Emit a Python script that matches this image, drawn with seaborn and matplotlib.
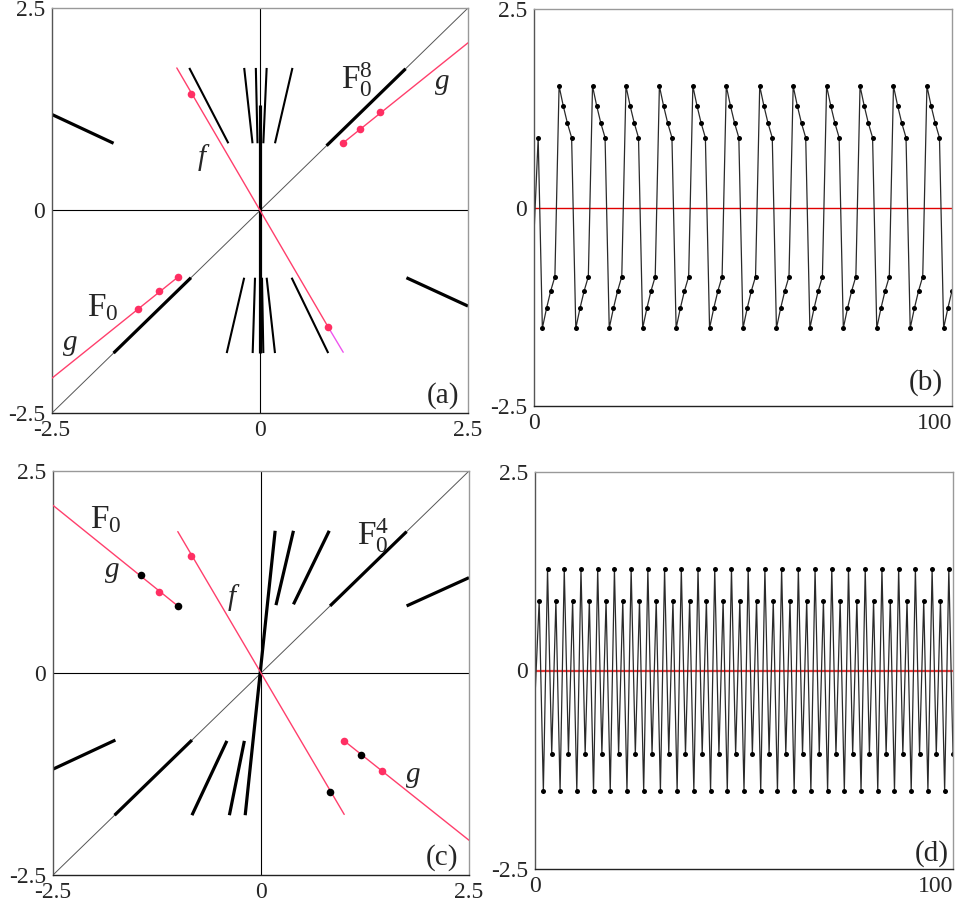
import numpy as np
import pandas as pd
import matplotlib
matplotlib.use("Agg")
import matplotlib.pyplot as plt
import seaborn as sns

sns.set_style("white")
plt.rcParams["font.family"] = ["Liberation Serif", "DejaVu Serif"]
plt.rcParams["mathtext.fontset"] = "custom"
plt.rcParams["mathtext.rm"] = "Liberation Serif"
plt.rcParams["mathtext.it"] = "Liberation Serif:italic"

# ---------------- data ----------------
AXIS_TICKS = [-2.5, 0, 2.5]
AXIS_TICKLABELS = ["-2.5", "0", "2.5"]
TS_XTICKS = [0, 100]
TS_XTICKLABELS = ["0", "100"]
TS_YTICKS = [-2.5, 0, 2.5]
TS_YTICKLABELS = ["-2.5", "0", "2.5"]
DIAG = [-2.5, 2.5]

# panel (a)
A_F_X = [-1.0, 0.82]
A_F_Y = [1.76, -1.44]
A_F_TAIL_X = [0.82, 1.0]
A_F_TAIL_Y = [-1.44, -1.75]
A_G_LOW_X = [-2.5, -0.99]
A_G_LOW_Y = [-2.07, -0.825]
A_G_HIGH_X = [1.0, 2.5]
A_G_HIGH_Y = [0.835, 2.07]
A_DOT_X = [-1.47, -1.21, -0.99, 1.0, 1.2, 1.44, -0.83, 0.82]
A_DOT_Y = [-1.22, -0.99, -0.825, 0.835, 1.0, 1.21, 1.44, -1.44]
# thick segments (x0, y0, x1, y1)
A_THICK = [(-1.76, -1.76, -0.83, -0.83), (0.80, 0.80, 1.75, 1.75),
           (-2.5, 1.185, -1.76, 0.83), (1.76, -0.83, 2.5, -1.18),
           (0.0, -1.76, 0.0, 1.30)]
A_FAN_UP_TOP = [-0.85, -0.19, -0.05, 0.08, 0.39]      # at y = 1.76
A_FAN_UP_BOT = [-0.38, -0.09, -0.03, 0.04, 0.18]      # at y = 0.83
A_FAN_LO_TOP = [-0.19, -0.06, 0.024, 0.08, 0.38]      # at y = -0.83
A_FAN_LO_BOT = [-0.40, -0.088, 0.04, 0.18, 0.82]      # at y = -1.76
FAN_Y_OUT = 1.76
FAN_Y_IN = 0.83

# panel (c)
C_F_X = [-1.0, 1.0]
C_F_Y = [1.75, -1.75]
C_G_LEFT_X = [-2.5, -1.0]
C_G_LEFT_Y = [2.075, 0.83]
C_G_RIGHT_X = [1.0, 2.5]
C_G_RIGHT_Y = [-0.84, -2.07]
C_RED_X = [-1.22, 1.0, 1.46, -0.84]
C_RED_Y = [1.0, -0.84, -1.21, 1.45]
C_BLACK_X = [-1.445, -1.0, 1.2, 0.83]
C_BLACK_Y = [1.21, 0.83, -1.01, -1.47]
C_THICK = [(-1.76, -1.76, -0.83, -0.83), (0.83, 0.83, 1.75, 1.75),
           (-2.5, -1.19, -1.75, -0.83), (1.75, 0.83, 2.5, 1.18),
           (0.18, 0.84, 0.39, 1.76), (0.39, 0.85, 0.82, 1.76),
           (-0.41, -0.84, -0.83, -1.76), (-0.20, -0.84, -0.38, -1.76),
           (-0.19, -1.76, 0.17, 1.76)]

# panel (b) time series, period 8
B_N = list(range(101))
B_VALUES = [-0.33, 0.88,
            -1.52, -1.27, -1.05, -0.87, 1.53, 1.28, 1.06, 0.88,
            -1.52, -1.27, -1.05, -0.87, 1.53, 1.28, 1.06, 0.88,
            -1.52, -1.27, -1.05, -0.87, 1.53, 1.28, 1.06, 0.88,
            -1.52, -1.27, -1.05, -0.87, 1.53, 1.28, 1.06, 0.88,
            -1.52, -1.27, -1.05, -0.87, 1.53, 1.28, 1.06, 0.88,
            -1.52, -1.27, -1.05, -0.87, 1.53, 1.28, 1.06, 0.88,
            -1.52, -1.27, -1.05, -0.87, 1.53, 1.28, 1.06, 0.88,
            -1.52, -1.27, -1.05, -0.87, 1.53, 1.28, 1.06, 0.88,
            -1.52, -1.27, -1.05, -0.87, 1.53, 1.28, 1.06, 0.88,
            -1.52, -1.27, -1.05, -0.87, 1.53, 1.28, 1.06, 0.88,
            -1.52, -1.27, -1.05, -0.87, 1.53, 1.28, 1.06, 0.88,
            -1.52, -1.27, -1.05, -0.87, 1.53, 1.28, 1.06, 0.88,
            -1.52, -1.27, -1.05]

# panel (d) time series, period 4
D_N = list(range(101))
D_VALUES = [-0.33,
            0.88, -1.52, 1.28, -1.05, 0.88, -1.52, 1.28, -1.05,
            0.88, -1.52, 1.28, -1.05, 0.88, -1.52, 1.28, -1.05,
            0.88, -1.52, 1.28, -1.05, 0.88, -1.52, 1.28, -1.05,
            0.88, -1.52, 1.28, -1.05, 0.88, -1.52, 1.28, -1.05,
            0.88, -1.52, 1.28, -1.05, 0.88, -1.52, 1.28, -1.05,
            0.88, -1.52, 1.28, -1.05, 0.88, -1.52, 1.28, -1.05,
            0.88, -1.52, 1.28, -1.05, 0.88, -1.52, 1.28, -1.05,
            0.88, -1.52, 1.28, -1.05, 0.88, -1.52, 1.28, -1.05,
            0.88, -1.52, 1.28, -1.05, 0.88, -1.52, 1.28, -1.05,
            0.88, -1.52, 1.28, -1.05, 0.88, -1.52, 1.28, -1.05,
            0.88, -1.52, 1.28, -1.05, 0.88, -1.52, 1.28, -1.05,
            0.88, -1.52, 1.28, -1.05, 0.88, -1.52, 1.28, -1.05,
            0.88, -1.52, 1.28, -1.05]

# ---------------- style ----------------
RED = "#ff3f6c"
DOT_RED = "#ff2f63"
MAGENTA = "#ee55ee"
TICK_FS = 17
LABEL_FS = 21
F_FS = 24

fig = plt.figure(figsize=(9.62, 9.08), dpi=100)
fig.patch.set_facecolor("white")
W, H = 962.0, 908.0


def add_ax(l, t, r, b):
    return fig.add_axes([l / W, 1 - b / H, (r - l) / W, (b - t) / H])


ax_a = add_ax(52, 8, 468, 413)
ax_b = add_ax(534, 9, 952, 406)
ax_c = add_ax(53, 471, 469, 875)
ax_d = add_ax(535, 472, 953, 869)


def frame(ax):
    ax.set_facecolor("white")
    for side, col in (("left", "#555555"), ("bottom", "#222222"),
                      ("top", "#999999"), ("right", "#999999")):
        ax.spines[side].set_visible(True)
        ax.spines[side].set_color(col)
        ax.spines[side].set_linewidth(1.0)
    ax.tick_params(length=0, labelsize=TICK_FS, pad=5)
    ax.grid(False)


def phase_axes(ax):
    frame(ax)
    ax.set_xlim(-2.5, 2.5)
    ax.set_ylim(-2.5, 2.5)
    ax.set_xticks(AXIS_TICKS)
    ax.set_xticklabels(AXIS_TICKLABELS)
    ax.set_yticks(AXIS_TICKS)
    ax.set_yticklabels(AXIS_TICKLABELS)
    ax.axhline(0, color="black", lw=0.8, zorder=1)
    ax.axvline(0, color="black", lw=0.8, zorder=1)
    ax.plot(DIAG, DIAG, color="#555555", lw=0.7, zorder=1)


def seg(ax, s, lw, color="black"):
    x0, y0, x1, y1 = s
    ax.plot([x0, x1], [y0, y1], color=color, lw=lw, solid_capstyle="butt", zorder=2)


# ---------------- panel (a) ----------------
phase_axes(ax_a)
for s in A_THICK:
    seg(ax_a, s, 2.3)
for xt, xb in zip(A_FAN_UP_TOP, A_FAN_UP_BOT):
    seg(ax_a, (xb, FAN_Y_IN, xt, FAN_Y_OUT), 1.5)
for xt, xb in zip(A_FAN_LO_TOP, A_FAN_LO_BOT):
    seg(ax_a, (xt, -FAN_Y_IN, xb, -FAN_Y_OUT), 1.5)
ax_a.plot(A_F_X, A_F_Y, color=RED, lw=1.0, zorder=3)
ax_a.plot(A_F_TAIL_X, A_F_TAIL_Y, color=MAGENTA, lw=1.0, zorder=3)
ax_a.plot(A_G_LOW_X, A_G_LOW_Y, color=RED, lw=1.0, zorder=3)
ax_a.plot(A_G_HIGH_X, A_G_HIGH_Y, color=RED, lw=1.0, zorder=3)
sns.scatterplot(x=A_DOT_X, y=A_DOT_Y, color=DOT_RED, s=30, linewidth=0,
                ax=ax_a, zorder=4)
ax_a.text(0.97, 1.62, r"$\mathrm{F}_0^8$", fontsize=F_FS, ha="left", va="center")
ax_a.text(2.19, 1.59, "g", fontsize=LABEL_FS, style="italic", ha="center", va="center")
ax_a.text(-0.70, 0.66, "f", fontsize=LABEL_FS, style="italic", ha="center", va="center")
ax_a.text(-2.08, -1.20, r"$\mathrm{F}_0$", fontsize=F_FS, ha="left", va="center")
ax_a.text(-2.28, -1.64, "g", fontsize=LABEL_FS, style="italic", ha="center", va="center")
ax_a.text(2.2, -2.28, "(a)", fontsize=LABEL_FS, ha="center", va="center")

# ---------------- panel (c) ----------------
phase_axes(ax_c)
for s in C_THICK:
    seg(ax_c, s, 2.3)
ax_c.plot(C_F_X, C_F_Y, color=RED, lw=1.0, zorder=3)
ax_c.plot(C_G_LEFT_X, C_G_LEFT_Y, color=RED, lw=1.0, zorder=3)
ax_c.plot(C_G_RIGHT_X, C_G_RIGHT_Y, color=RED, lw=1.0, zorder=3)
sns.scatterplot(x=C_RED_X, y=C_RED_Y, color=DOT_RED, s=30, linewidth=0,
                ax=ax_c, zorder=4)
sns.scatterplot(x=C_BLACK_X, y=C_BLACK_Y, color="black", s=30, linewidth=0,
                ax=ax_c, zorder=4)
ax_c.text(-2.05, 1.90, r"$\mathrm{F}_0$", fontsize=F_FS, ha="left", va="center")
ax_c.text(-1.79, 1.28, "g", fontsize=LABEL_FS, style="italic", ha="center", va="center")
ax_c.text(-0.35, 0.94, "f", fontsize=LABEL_FS, style="italic", ha="center", va="center")
ax_c.text(1.15, 1.70, r"$\mathrm{F}_0^4$", fontsize=F_FS, ha="left", va="center")
ax_c.text(1.83, -1.26, "g", fontsize=LABEL_FS, style="italic", ha="center", va="center")
ax_c.text(2.18, -2.28, "(c)", fontsize=LABEL_FS, ha="center", va="center")


# ---------------- time series panels ----------------
def ts_axes(ax, n, vals, zero_lw, zero_col, tag, tagpos):
    frame(ax)
    ax.axhline(0, color=zero_col, lw=zero_lw, zorder=1)
    df = pd.DataFrame({"n": n, "v": vals})
    sns.lineplot(data=df, x="n", y="v", ax=ax, color="#2a2a2a", lw=0.9,
                 marker="o", markersize=3.6, markeredgewidth=0,
                 markerfacecolor="black", markevery=list(range(1, len(n))),
                 sort=False, estimator=None, zorder=2)
    ax.set_xlim(0, 100)
    ax.set_ylim(-2.5, 2.5)
    ax.set_xticks(TS_XTICKS)
    ax.set_xticklabels(TS_XTICKLABELS)
    ax.set_yticks(TS_YTICKS)
    ax.set_yticklabels(TS_YTICKLABELS)
    ax.set_xlabel("")
    ax.set_ylabel("")
    ax.get_xticklabels()[-1].set_horizontalalignment("right")
    ax.text(tagpos[0], tagpos[1], tag, fontsize=LABEL_FS, ha="center", va="center")


ts_axes(ax_b, B_N, B_VALUES, 1.0, "#e00000", "(b)", (93.8, -2.21))
ts_axes(ax_d, D_N, D_VALUES, 1.6, "#ee3b3b", "(d)", (95.0, -2.30))

fig.savefig("out.png", dpi=100, facecolor="white")
